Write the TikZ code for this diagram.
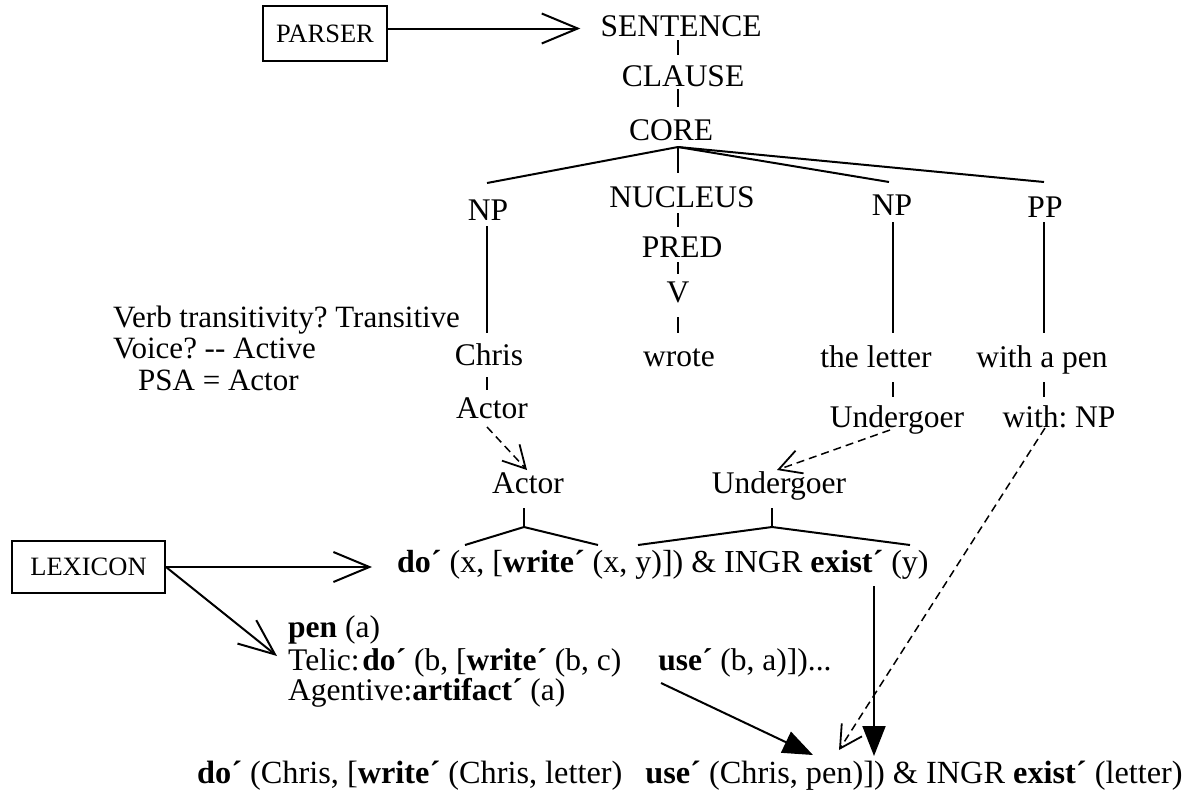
\documentclass[tikz,border=0pt]{standalone}
\usepackage{fontspec}
\setmainfont{Liberation Serif}
\usetikzlibrary{arrows.meta}
\frenchspacing
\begin{document}
\begin{tikzpicture}[x=1pt,y=-1pt,
  every node/.style={inner sep=0pt, font=\fontsize{31.5}{36}\selectfont},
  lbl/.style={anchor=base},
  lft/.style={anchor=base west},
  note/.style={anchor=base west, font=\fontsize{31}{36}\selectfont},
  formula/.style={anchor=base west, font=\fontsize{32}{36}\selectfont},
  boxed/.style={draw, line width=2pt, font=\fontsize{26.5}{30}\selectfont},
  tree/.style={line width=2pt},
  bigarrow/.style={line width=2pt, -{Straight Barb[length=36pt,width=30pt,line width=2pt]}},
  linkarrow/.style={line width=1.5pt, dash pattern=on 8pt off 5pt, -{Straight Barb[length=22pt,width=24pt,line width=1.8pt]}},
  solidarrow/.style={line width=2pt, -{Triangle[length=30pt,width=23pt]}},
]
\useasboundingbox (0,0) rectangle (1185,796);

% parser and the syntactic tree
\node[boxed, minimum width=124pt, minimum height=55pt] (parser) at (325,33.5) {PARSER};
\node[lbl] (sent)   at (681,36)  {SENTENCE};
\node[lbl] (clause) at (683,86)  {CLAUSE};
\node[lbl] (core)   at (671,140) {CORE};
\node[lbl] (npA)    at (488,220) {NP};
\node[lbl] (nuc)    at (682,207) {NUCLEUS};
\node[lbl] (pred)   at (682,257) {PRED};
\node[lbl] (verb)   at (678,302) {V};
\node[lbl] (npB)    at (892,215) {NP};
\node[lbl] (pp)     at (1045,217) {PP};
\node[lbl] (chris)  at (489,365) {Chris};
\node[lbl] (wrote)  at (679,366) {wrote};
\node[lbl] (letter) at (876,367) {the letter};
\node[lbl] (withpen) at (1042,367) {with a pen};
\node[lbl] (actA)   at (492,418) {Actor};
\node[lbl] (undA)   at (897,427) {Undergoer};
\node[lbl] (withnp) at (1059,427) {with: NP};
\node[lbl] (actB)   at (528,493) {Actor};
\node[lbl] (undB)   at (779,493) {Undergoer};

% linking notes
\node[note] (q1) at (113,327) {Verb transitivity? Transitive};
\node[note] (q2) at (113,358) {Voice? {-}{-} Active};
\node[note] (q3) at (138,390) {PSA = Actor};

% lexicon and logical structures
\node[boxed, minimum width=153pt, minimum height=52pt] (lex) at (88.5,567) {LEXICON};
\node[formula] (lsr) at (397,572) {\textbf{do´} (x, [\textbf{write´} (x, y)]) \& INGR \textbf{exist´} (y)};
\node[lft] (pen)   at (288,637) {\textbf{pen} (a)};
\node[lft] (telic) at (288,670) {Telic:\kern3pt\textbf{do´} (b, [\textbf{write´} (b, c)\hspace{37pt}\textbf{use´} (b, a)])...};
\node[lft] (agent) at (288,700) {Agentive:\textbf{artifact´} (a)};
\node[anchor=base west, font=\fontsize{32.3}{36}\selectfont] (result) at (197,783)
  {\textbf{do´} (Chris, [\textbf{write´} (Chris, letter)\hspace{23pt}\textbf{use´} (Chris, pen)]) \& INGR \textbf{exist´} (letter)};

% helper points on the logical structures
\coordinate (apex) at ([xshift=7pt,yshift=-7pt]core.base);
\coordinate (aTop) at ([xshift=-4pt,yshift=-34pt]actB.base);
\coordinate (uTop) at ([xshift=-7pt,yshift=-34pt]undB.base);
\coordinate (useA) at ([xshift=373pt,yshift=-13pt]telic.base west);

% parser arrow
\draw[bigarrow, shorten >=20pt] ([yshift=5pt]parser.east) -- ([yshift=5pt]parser.east -| sent.west);

% tree lines
\draw[tree] ([xshift=-3pt,yshift=-4pt]sent.base) -- ([xshift=-5pt,yshift=31pt]clause.base);
\draw[tree] ([xshift=-5pt,yshift=-3pt]clause.base) -- ([xshift=7pt,yshift=33pt]core.base);
\draw[tree] (apex) -- ([xshift=-1pt,yshift=37pt]npA.base);
\draw[tree] (apex) -- ([xshift=-4pt,yshift=34pt]nuc.base);
\draw[tree] (apex) -- ([xshift=-3pt,yshift=33pt]npB.base);
\draw[tree] (apex) -- ([xshift=-1pt,yshift=35pt]pp.base);
\draw[tree] ([xshift=-4pt,yshift=-6pt]nuc.base) -- ([xshift=-4pt,yshift=30pt]pred.base);
\draw[tree] ([xshift=-4pt,yshift=-5pt]pred.base) -- ([yshift=28pt]verb.base);
\draw[tree] ([yshift=-15pt]verb.base) -- ([xshift=-1pt,yshift=33pt]wrote.base);
\draw[tree] ([xshift=-1pt,yshift=-6pt]npA.base) -- ([xshift=-2pt,yshift=32pt]chris.base);
\draw[tree] ([xshift=-2pt,yshift=-12pt]chris.base) -- ([xshift=-5pt,yshift=28pt]actA.base);
\draw[tree] ([xshift=1pt,yshift=-7pt]npB.base) -- ([xshift=17pt,yshift=34pt]letter.base);
\draw[tree] ([xshift=17pt,yshift=-15pt]letter.base) -- ([xshift=-4pt,yshift=30pt]undA.base);
\draw[tree] ([xshift=-1pt,yshift=-5pt]pp.base) -- ([xshift=2pt,yshift=34pt]withpen.base);
\draw[tree] ([xshift=2pt,yshift=-15pt]withpen.base) -- ([xshift=-15pt,yshift=30pt]withnp.base);

% argument branches
\draw[tree] ([xshift=-4pt,yshift=-15pt]actB.base) -- (aTop);
\draw[tree] ([xshift=-7pt,yshift=-15pt]undB.base) -- (uTop);
\draw[tree] ([xshift=68pt,yshift=27pt]lsr.base west) -- (aTop) -- ([xshift=201pt,yshift=27pt]lsr.base west);
\draw[tree] ([xshift=241pt,yshift=27pt]lsr.base west) -- (uTop) -- ([xshift=513pt,yshift=27pt]lsr.base west);

% linking arrows
\draw[linkarrow] ([xshift=-5pt,yshift=-9pt]actA.base) -- ([xshift=-1pt,yshift=23pt]actB.base);
\draw[linkarrow] ([xshift=-7pt,yshift=-3pt]undA.base) -- ([xshift=-2pt,yshift=23pt]undB.base);
\draw[linkarrow] ([xshift=-14pt,yshift=-1pt]withnp.base) -- ([xshift=642pt,yshift=33pt]result.base west);

% lexicon arrows
\draw[bigarrow] (lex.east) -- ([xshift=-25pt]lex.east -| lsr.west);
\draw[bigarrow] (lex.east) -- ([xshift=-11pt,yshift=-19pt]pen.base west);

% composition arrows
\draw[solidarrow] ([xshift=477pt,yshift=-14pt]lsr.base west) -- ([xshift=677pt,yshift=27pt]result.base west);
\draw[solidarrow] (useA) -- ([xshift=616pt,yshift=28pt]result.base west);
\end{tikzpicture}
\end{document}
